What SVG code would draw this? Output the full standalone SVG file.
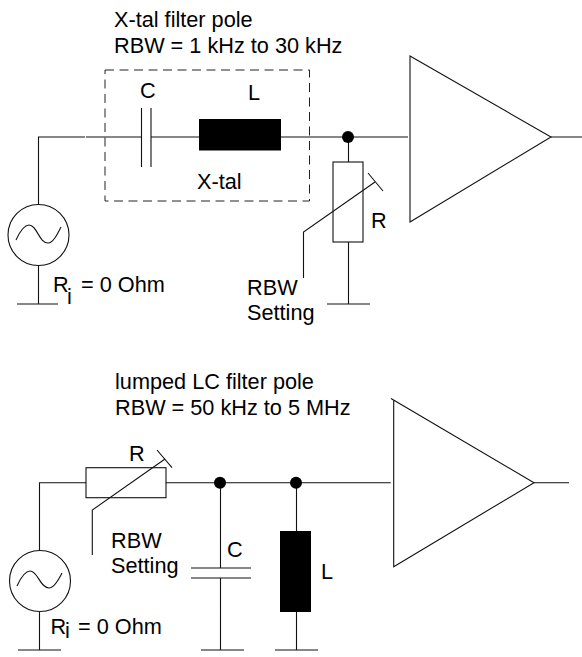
<svg xmlns="http://www.w3.org/2000/svg" width="582" height="657" viewBox="0 0 582 657">
<style>
text{font-family:"Liberation Sans",Arial,sans-serif;font-size:21.7px;fill:#000}
.w{fill:none;stroke:#111;stroke-width:1.1}
.f{fill:#000;stroke:none}
.d{fill:none;stroke:#222;stroke-width:1;stroke-dasharray:9 5.500}
</style>
<rect width="582" height="657" fill="#fff"/>
<g id="connectors" class="w">
<path class="w" d="M85 137H38.500V204.500M86 137H141.500M151 137H199M281 137H408M348.500 137V162M348.500 242V304M38.500 265.500V304M551 137H582"/>
<path class="w" d="M86 482.700H39.500V551M166 482.700H390.700M220.500 482.700V568M220.500 578V650M296.500 482.700V531M296.500 612V650M39.500 611.500V650M534 482.700H569"/>
<path class="w" d="M303.500 278V232L375 182M92.300 555V510L165 459"/>
</g>
<g id="caption-top"><text x="114" y="27">X-tal filter pole</text><text x="114" y="52.500">RBW = 1 kHz to 30 kHz</text></g>
<g id="xtal-box"><rect class="d" x="105" y="70" width="204.500" height="131"/><text x="197" y="189">X-tal</text></g>
<g id="source-top"><circle class="w" cx="38.500" cy="235" r="30.500"/><path class="w" d="M16 240C21 229 25 225 29 225C37 225 39 243 48 243C53 243 57 235 61 227"/><path class="w" d="M17 304H58"/><text x="53" y="292">R</text><text x="67" y="304">i</text><text x="81" y="292">= 0 Ohm</text></g>
<g id="cap-top"><path class="w" d="M141.500 108V167M151 108V167"/><text x="140" y="98">C</text></g>
<g id="ind-top"><rect class="f" x="199" y="119" width="82" height="31.500"/><text x="248" y="100">L</text></g>
<g id="junction-top"><circle class="f" cx="348" cy="137" r="6"/></g>
<g id="res-top"><rect class="w" x="333" y="162" width="30" height="80"/><path class="w" d="M368 173L383 191M327 304H370"/><text x="371" y="228">R</text></g>
<g id="rbw-top"><text x="247" y="295">RBW</text><text x="247" y="320">Setting</text></g>
<g id="amp-top"><path class="w" d="M410 56L551 137L410 222Z"/></g>
<g id="caption-bottom"><text x="115" y="389">lumped LC filter pole</text><text x="115" y="415">RBW = 50 kHz to 5 MHz</text></g>
<g id="res-bottom"><rect class="w" x="86" y="467.700" width="80" height="30"/><path class="w" d="M157 450L172 467.700"/><text x="129" y="461">R</text></g>
<g id="rbw-bottom"><text x="111" y="548">RBW</text><text x="111" y="573">Setting</text></g>
<g id="source-bottom"><circle class="w" cx="40" cy="581" r="30.500"/><path class="w" d="M17 586C22 575 26 571 30 571C38 571 40 588 49 588C54 588 58 581 62 573"/><path class="w" d="M18 650H61"/><text x="50.500" y="634">R</text><text x="65" y="638">i</text><text x="78" y="634">= 0 Ohm</text></g>
<g id="junction-bottom-1"><circle class="f" cx="220" cy="482.700" r="6"/></g>
<g id="cap-bottom"><path class="w" d="M191 568H251M191 578H251M201 650H244"/><text x="227" y="557">C</text></g>
<g id="junction-bottom-2"><circle class="f" cx="296" cy="482.700" r="6"/></g>
<g id="ind-bottom"><rect class="f" x="280" y="531" width="31" height="81"/><path class="w" d="M275 650H318"/><text x="321" y="579">L</text></g>
<g id="amp-bottom"><path class="w" d="M391 398.500L534 482.700L393.700 566.700V400"/></g>
</svg>
